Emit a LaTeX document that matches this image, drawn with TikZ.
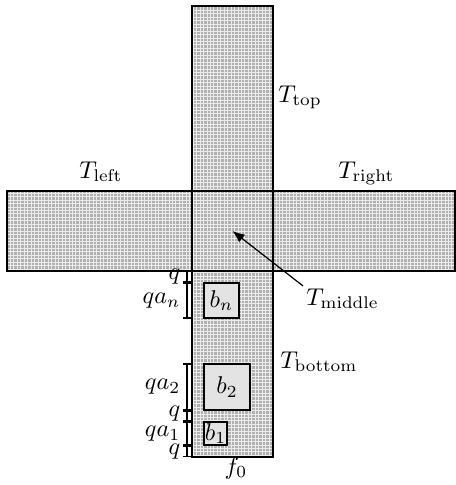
\documentclass[tikz,border=0pt]{standalone}
\usetikzlibrary{arrows.meta,positioning}

\begin{document}
\begin{tikzpicture}[x=0.0145cm, y=-0.0145cm,
    tile/.style={fill=gray!62},
    mesh/.style={draw=white!85!gray, line width=0.35pt},
    blk/.style={draw, line width=0.5pt, fill=gray!22, inner sep=0pt},
    dim/.style={{|[width=3pt]}-{|[width=3pt]}, line width=0.5pt},
    dl/.style={midway, anchor=east, inner sep=0pt, xshift=-2.5pt},
    lbl/.style={anchor=base west, inner sep=0pt}
  ]
  \useasboundingbox (0,0) rectangle (456,485);
  % the five tiles of the cross
  \fill[tile] (192,6) rectangle (273,457);
  \fill[tile] (7,191) rectangle (455,271);
  \begin{scope}
    \clip (192,6) rectangle (273,457) (7,191) rectangle (455,271);
    \draw[mesh, step=0.05cm] (0,0) grid (456,485);
  \end{scope}
  \draw[line width=0.55pt] (192,6) rectangle (273,457);
  \draw[line width=0.55pt] (7,191) rectangle (455,271);
  \coordinate (mid) at (232.5,231);
  \coordinate (midb) at (232.5,271);
  \coordinate (botb) at (232.5,457);
  \coordinate (dx) at (187,0);
  % blocks
  \node[blk, minimum size=0.5075cm] (bn) at (221.5,300.5) {$b_n$};
  \node[blk, minimum size=0.667cm] (b2) at (227,387) {$b_2$};
  \node[blk, minimum size=0.3335cm] (b1) at (215.5,433.5) {$b_1$};
  % labels
  \node[lbl] (ttop) at (278,102) {$T_{\mathrm{top}}$};
  \node[lbl] (tleft) at (79,178) {$T_{\mathrm{left}}$};
  \node[lbl] (tright) at (338,178) {$T_{\mathrm{right}}$};
  \node[lbl] (tmid) at (306,305) {$T_{\mathrm{middle}}$};
  \node[lbl] (tbot) at (280,368) {$T_{\mathrm{bottom}}$};
  \node[anchor=base, inner sep=0pt] (f0) at (236,474) {$f_0$};
  \draw[line width=0.5pt, -{Latex[length=5pt,width=4pt]}] (tmid.north west) ++(-3,-2) -- (mid);
  % heights along the bottom tile
  \draw[dim] (midb -| dx) -- (bn.north -| dx) node[dl]{$q$};
  \draw[dim] (bn.north -| dx) -- (bn.south -| dx) node[dl]{$qa_n$};
  \draw[dim] (b2.north -| dx) -- (b2.south -| dx) node[dl]{$qa_2$};
  \draw[dim] (b2.south -| dx) -- (b1.north -| dx) node[dl, yshift=1pt]{$q$};
  \draw[dim] (b1.north -| dx) -- (b1.south -| dx) node[dl]{$qa_1$};
  \draw[dim] (b1.south -| dx) -- (botb -| dx) node[dl]{$q$};
\end{tikzpicture}
\end{document}
